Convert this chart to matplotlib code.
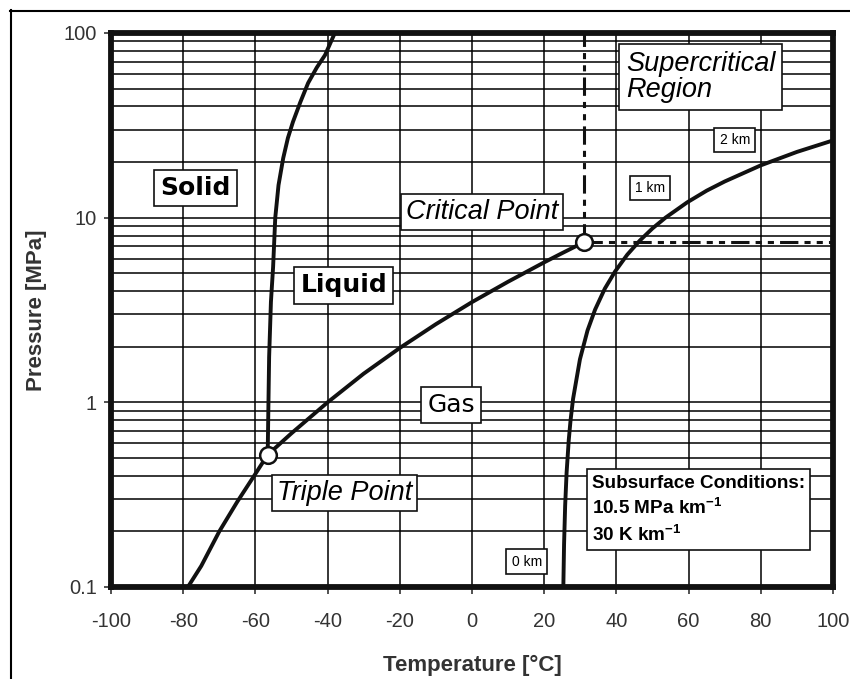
"""
CO2 phase diagram with subsurface P-T path
"""

import matplotlib
matplotlib.use("Agg")
import matplotlib.pyplot as plt
from matplotlib.lines import Line2D
from matplotlib.ticker import FixedLocator, NullFormatter

# sublimation + boiling curve (deg C, MPa)
vap_T = [-78.7, -75, -70, -65, -60, -56.6, -50, -40, -30, -20, -10, 0, 10, 20, 25, 31.1]
vap_P = [0.1, 0.13, 0.2, 0.29, 0.41, 0.52, 0.68, 1.0, 1.43, 1.97, 2.65, 3.49, 4.5, 5.73, 6.43, 7.38]

# melting curve
melt_T = [-56.6, -56.2, -55.7, -55.1, -54.5, -53.6, -52.3, -51.0, -49.6, -47.6,
          -45.4, -43.0, -40.7, -38.0]
melt_P = [0.52, 1.76, 3.5, 5.4, 10, 15, 21, 27, 33, 42, 53.6, 65, 76, 100]

# subsurface conditions (10.5 MPa/km, 30 K/km)
dep_T = [25.3, 25.5, 25.8, 26.2, 26.8, 27.3, 28.0, 29.9, 32.0, 34.1, 36.8, 39.6,
         43.0, 46.5, 50.0, 53.6, 59.6, 65.0, 70.0, 80.0, 90.0, 100.0]
dep_P = [0.1, 0.17, 0.275, 0.415, 0.625, 0.8, 1.045, 1.71, 2.45, 3.18, 4.13, 5.1,
         6.3, 7.52, 8.75, 10.0, 12.1, 14.0, 15.7, 19.2, 22.7, 26.2]

triple = (-56.6, 0.52)
critical = (31.1, 7.38)

# dash-dot boundary lines of supercritical region
sc_vert_T = [31.1, 31.1]
sc_vert_P = [7.38, 100]
sc_hor_T = [31.1, 100]
sc_hor_P = [7.38, 7.38]

x_ticks = [-100, -80, -60, -40, -20, 0, 20, 40, 60, 80, 100]
y_ticks = [0.1, 1, 10, 100]
y_ticklabels = ["0.1", "1", "10", "100"]
y_minor = [m * 10.0 ** e for e in (-1, 0, 1) for m in range(2, 10)]

TXT = "#333333"
SANS = ["Liberation Sans", "DejaVu Sans"]
plt.rcParams["mathtext.default"] = "regular"

fig = plt.figure(figsize=(8.5, 6.79), dpi=100)
ax = fig.add_axes([0.1306, 0.1355, 0.9800 - 0.1306, 0.9514 - 0.1355])

ax.set_yscale("log")
ax.set_xlim(-100, 100)
ax.set_ylim(0.1, 100)

# grid
ax.xaxis.set_major_locator(FixedLocator(x_ticks))
ax.yaxis.set_major_locator(FixedLocator(y_ticks))
ax.yaxis.set_minor_locator(FixedLocator(y_minor))
ax.yaxis.set_minor_formatter(NullFormatter())
ax.set_yticklabels(y_ticklabels)
ax.set_xticklabels([str(t) for t in x_ticks])
ax.grid(True, which="major", axis="x", color="black", linewidth=1.1, zorder=1)
ax.grid(True, which="both", axis="y", color="black", linewidth=1.1, zorder=1)
ax.set_axisbelow(True)
ax.tick_params(which="minor", length=0)
ax.tick_params(which="major", direction="out", length=5, width=1.2, color=TXT,
               labelsize=14.5, labelcolor=TXT)
ax.tick_params(axis="x", pad=13)
ax.tick_params(axis="y", pad=5)
for lab in ax.get_xticklabels() + ax.get_yticklabels():
    lab.set_family(SANS)

for s in ax.spines.values():
    s.set_linewidth(4.2)
    s.set_color("#111111")
    s.set_zorder(5)

# curves
ax.plot(vap_T, vap_P, color="#111111", linewidth=2.8, zorder=3)
ax.plot(melt_T, melt_P, color="#111111", linewidth=2.8, zorder=3)
ax.plot(dep_T, dep_P, color="#111111", linewidth=2.8, zorder=3)
dashdotdot = (0, (6, 2, 2, 2, 2, 2))
ax.plot(sc_vert_T, sc_vert_P, color="#111111", linewidth=2.2,
        linestyle=dashdotdot, zorder=3)
ax.plot(sc_hor_T, sc_hor_P, color="#111111", linewidth=2.2,
        linestyle=dashdotdot, zorder=3)

for pt in (triple, critical):
    ax.plot(pt[0], pt[1], marker="o", markersize=12, markerfacecolor="white",
            markeredgecolor="#111111", markeredgewidth=1.8, zorder=6)


def boxed(pad=0.25):
    return dict(boxstyle=f"square,pad={pad}", facecolor="white",
                edgecolor="#111111", linewidth=1.2)


def label(x, y, s, size, **kw):
    ax.text(x, y, s, fontsize=size, ha=kw.pop("ha", "center"), va="center",
            bbox=kw.pop("bbox", boxed()), zorder=7, **kw)


label(-76.5, 14.5, "Solid", 18, family="DejaVu Sans", fontweight="bold")
label(-35.5, 4.3, "Liquid", 18, family="DejaVu Sans", fontweight="bold")
label(-5.8, 0.97, "Gas", 18, family="DejaVu Sans")
label(-35.2, 0.323, "Triple Point", 19.5, family=SANS, style="italic",
      bbox=boxed(0.18))
label(2.8, 10.7, "Critical Point", 19.5, family=SANS, style="italic",
      bbox=boxed(0.18))
label(42.6, 57.8, "Supercritical\nRegion", 19.5, family=SANS, style="italic",
      ha="left", linespacing=1.0, bbox=boxed(0.25))
label(72.8, 26.3, "2 km", 10, family=SANS, bbox=boxed(0.38))
label(49.3, 14.5, "1 km", 10, family=SANS, bbox=boxed(0.38))
label(15.2, 0.137, "0 km", 10, family=SANS, bbox=boxed(0.38))
label(33.2, 0.262, "Subsurface Conditions:\n10.5 MPa km$^{-1}$\n30 K km$^{-1}$", 13.6,
      family=SANS, fontweight="bold", ha="left", linespacing=1.4,
      bbox=boxed(0.28))

ax.set_xlabel("Temperature [°C]", fontsize=16, fontweight="bold", color=TXT,
              family=SANS, labelpad=17)
ax.set_ylabel("Pressure [MPa]", fontsize=16, fontweight="bold", color=TXT,
              family=SANS, labelpad=12)

# thin page frame (left and top)
fig.add_artist(Line2D([10.5 / 850, 10.5 / 850], [0, 1 - 10 / 679],
                      transform=fig.transFigure, color="black", linewidth=1.5))
fig.add_artist(Line2D([10 / 850, 1], [1 - 10.5 / 679, 1 - 10.5 / 679],
                      transform=fig.transFigure, color="black", linewidth=1.5))

fig.savefig("out.png", dpi=100)
